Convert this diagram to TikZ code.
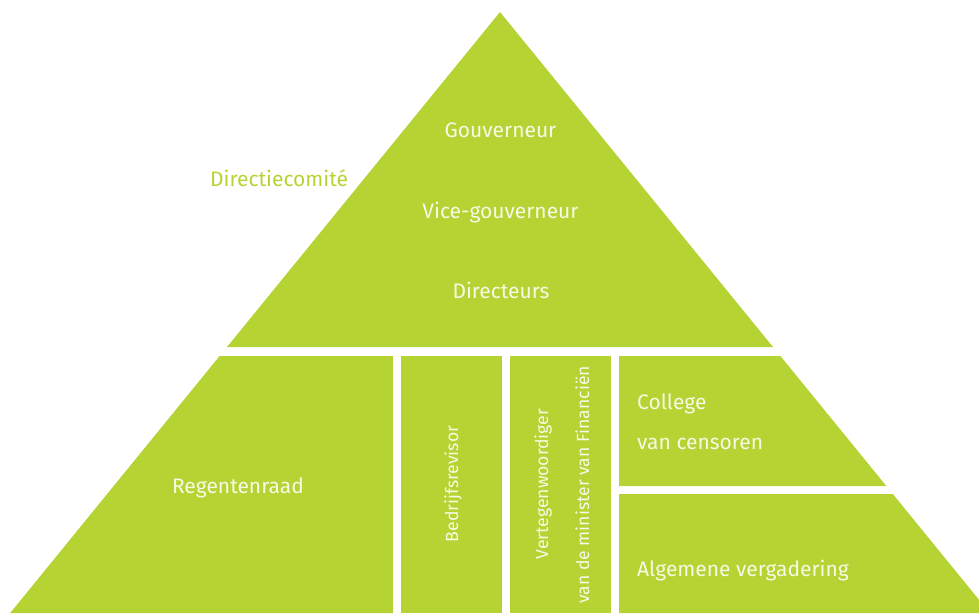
\documentclass[tikz,border=0pt]{standalone}
\usepackage{fontspec}
\setmainfont{Fira Sans}
\definecolor{pgreen}{RGB}{181,212,52}
\definecolor{ptext}{RGB}{247,249,228}
\begin{document}
\begin{tikzpicture}[x=1pt,y=-1pt,
  blk/.style={fill=pgreen,draw=none},
  lbl/.style={text=ptext,font=\fontsize{21}{21}\selectfont,inner sep=0pt,anchor=base},
  lbll/.style={lbl,anchor=base west},
  vlbl/.style={lbl,font=\fontsize{17.6}{17.6}\selectfont,rotate=90}]
\useasboundingbox (0,0) rectangle (979,613);
\begin{scope}
\clip (0,0) rectangle (979,613);
% top triangle
\fill[blk] (500,12) -- (227,347) -- (773,347) -- cycle;
% Regentenraad
\fill[blk] (219.6,356) -- (393,356) -- (393,613) -- (10.2,613) -- cycle;
% Bedrijfsrevisor
\fill[blk] (401,356) rectangle (502,613);
% Vertegenwoordiger
\fill[blk] (510,356) rectangle (611,613);
% College
\fill[blk] (619,356) -- (780.4,356) -- (886.3,486) -- (619,486) -- cycle;
% Algemene vergadering
\fill[blk] (619,494) -- (892.8,494) -- (989.8,613) -- (619,613) -- cycle;
\end{scope}
\node[lbl] (gouv) at (500.5,137) {Gouverneur};
\node[lbll,text=pgreen] (dc) at (210,186) {Directiecomité};
\node[lbl] (vice) at (500.5,218) {Vice-gouverneur};
\node[lbl] (dir) at (501,298) {Directeurs};
\node[lbl] (reg) at (238,493) {Regentenraad};
\node[vlbl] (bed) at (458,484) {Bedrijfsrevisor};
\node[vlbl] (vert1) at (548,484) {Vertegenwoordiger};
\node[vlbl] (vert2) at (589,485) {van de minister van Financiën};
\node[lbll] (col1) at (637,409) {College};
\node[lbll] (col2) at (637,449) {van censoren};
\node[lbll] (alg) at (637,576) {Algemene vergadering};
\end{tikzpicture}
\end{document}
